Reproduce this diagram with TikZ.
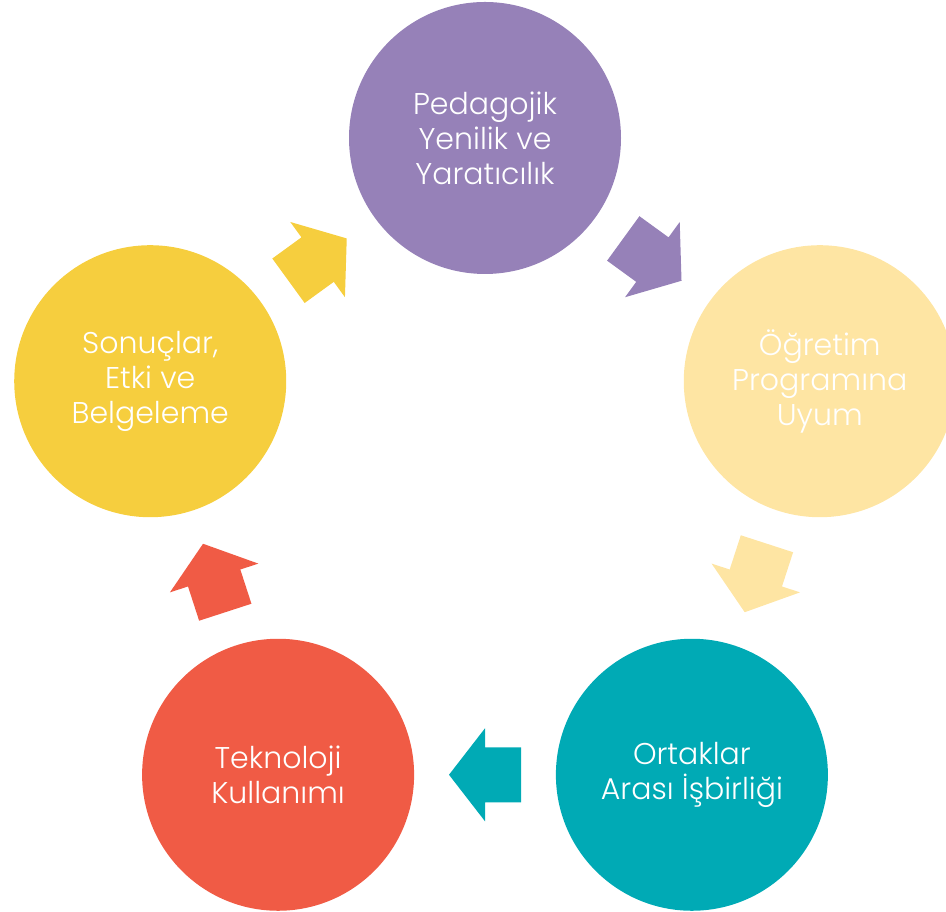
\documentclass[tikz,border=0pt]{standalone}
\usepackage{fontspec}
\setmainfont{Poppins}[UprightFont=* Light]
\usepackage{xcolor}
\usetikzlibrary{calc}

\definecolor{lavender}{HTML}{9681B8}
\definecolor{cream}{HTML}{FEE5A3}
\definecolor{teal}{HTML}{00AAB5}
\definecolor{coral}{HTML}{F05B45}
\definecolor{sun}{HTML}{F6CE3E}

\tikzset{cyclearrow/.pic={
    \path[pic actions] (-36,-27.5) -- (0,-27.5) -- (0,-46.5) -- (36,0)
        -- (0,46.5) -- (0,27.5) -- (-36,27.5) -- cycle;
}}

\begin{document}
\begin{tikzpicture}[x=1pt, y=1pt, main node/.style={circle, minimum size=272pt, inner sep=0pt, text=white, align=center, font=\fontsize{30}{35}\selectfont}]
    \useasboundingbox (0,0) rectangle (946,912);
    \coordinate (c) at (485,422);

    \node[main node, fill=lavender] (1) at ($(c)+(90:352)$) {Pedagojik\\Yenilik ve\\Yaratıcılık};
    \node[main node, fill=cream] (2) at ($(c)+(18:352)$) {Öğretim\\Programına\\Uyum};
    \node[main node, fill=teal] (3) at ($(c)+(-54:352)$) {Ortaklar\\Arası İşbirliği};
    \node[main node, fill=coral] (4) at ($(c)+(-126:352)$) {Teknoloji\\Kullanımı};
    \node[main node, fill=sun] (5) at ($(c)+(162:352)$) {Sonuçlar,\\Etki ve\\Belgeleme};

    % block arrows between the circles
    \pic[fill=lavender, rotate=-36] at ($(1)!0.5!(2)$) {cyclearrow};
    \pic[fill=cream, rotate=-108] at ($(2)!0.5!(3)$) {cyclearrow};
    \pic[fill=teal, rotate=180] at ($(3)!0.5!(4)$) {cyclearrow};
    \pic[fill=coral, rotate=108] at ($(4)!0.5!(5)$) {cyclearrow};
    \pic[fill=sun, rotate=36] at ($(5)!0.5!(1)$) {cyclearrow};
\end{tikzpicture}
\end{document}
